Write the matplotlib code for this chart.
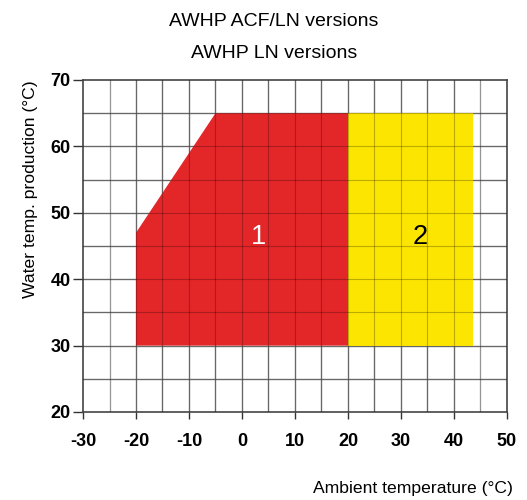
import matplotlib
matplotlib.use("Agg")
import matplotlib.pyplot as plt
from matplotlib.patches import Polygon

plt.rcParams['font.family'] = ['Liberation Sans', 'DejaVu Sans']

# Data
zone1_x = [-20, -20, -5, 20, 20]
zone1_y = [30, 47, 65, 65, 30]
zone2_x = [20, 20, 43.5, 43.5]
zone2_y = [30, 65, 65, 30]
zone_labels = ["1", "2"]
label_pos_x = [3.2, 33.6]
label_pos_y = [46.3, 46.3]
x_ticks = [-30, -20, -10, 0, 10, 20, 30, 40, 50]
y_ticks = [20, 30, 40, 50, 60, 70]

fig = plt.figure(figsize=(5.27, 5.0), dpi=100)
ax = fig.add_axes([0.1575, 0.176, 0.8045, 0.664])

ax.set_xlim(-30, 50)
ax.set_ylim(20, 70)

# grid
for gx in range(-25, 50, 5):
    c = '#c8c8c8' if gx in (-25, 45) else '#8c8c8c'
    ax.axvline(gx, color=c, lw=1.0, zorder=1)
for gy in range(25, 70, 5):
    ax.axhline(gy, color='#8c8c8c', lw=1.0, zorder=1)

ax.add_patch(Polygon(list(zip(zone1_x, zone1_y)), closed=True, facecolor='#e32628',
                     edgecolor='none', zorder=2))
ax.add_patch(Polygon(list(zip(zone2_x, zone2_y)), closed=True, facecolor='#fce500',
                     edgecolor='none', zorder=2))

# grid visible over fills (darker)
for gx in range(-25, 50, 5):
    ax.axvline(gx, color='#000000', lw=0.8, alpha=0.25, zorder=3)
for gy in range(25, 70, 5):
    ax.axhline(gy, color='#000000', lw=0.8, alpha=0.25, zorder=3)

ax.text(label_pos_x[0], label_pos_y[0], zone_labels[0], color='white', fontsize=19.5,
        ha='center', va='center', zorder=4)
ax.text(label_pos_x[1], label_pos_y[1], zone_labels[1], color='black', fontsize=19.5,
        ha='center', va='center', zorder=4)

ax.set_xticks(x_ticks)
ax.set_yticks(y_ticks)
ax.set_xticklabels([str(t) for t in x_ticks], fontweight='bold', fontsize=13)
ax.set_yticklabels([str(t) for t in y_ticks], fontweight='bold', fontsize=13)
ax.tick_params(axis='x', direction='out', length=5, width=1, color='#333333', pad=10)
ax.tick_params(axis='y', direction='out', length=7, width=1, color='#333333', pad=2)

for s in ax.spines.values():
    s.set_color('#444444')
    s.set_linewidth(1.2)

fig.text(0.52, 0.957, "AWHP ACF/LN versions", ha='center', va='center', fontsize=14)
fig.text(0.52, 0.892, "AWHP LN versions", ha='center', va='center', fontsize=14)
fig.text(0.973, 0.024, "Ambient temperature (°C)", ha='right', va='center', fontsize=12.6)
fig.text(0.057, 0.622, "Water temp. production (°C)", ha='center', va='center',
         rotation=90, fontsize=12.6)

fig.savefig("out.png", dpi=100)
